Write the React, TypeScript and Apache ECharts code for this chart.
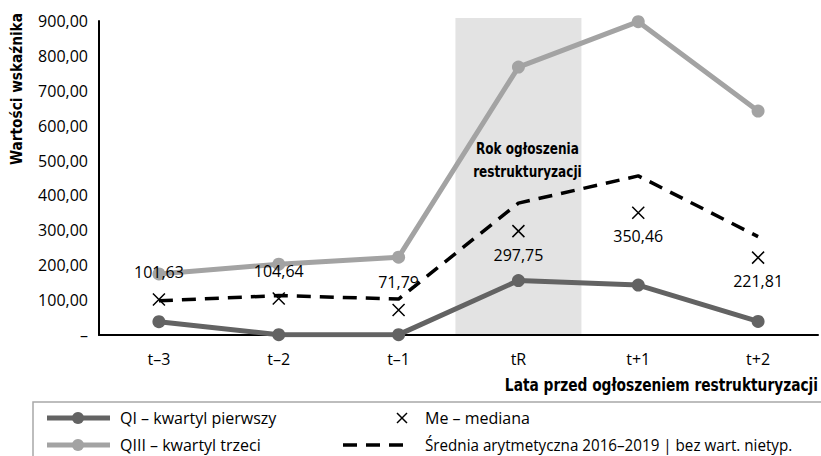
import React, { useEffect, useRef } from "react";
import * as echarts from "echarts";

// Okresy względem roku ogłoszenia restrukturyzacji
const categories = ["t\u20133", "t\u20132", "t\u20131", "tR", "t+1", "t+2"];
// Kwartyl pierwszy (QI)
const q1Values = [38, 1, 1, 156, 143, 39];
// Kwartyl trzeci (QIII)
const q3Values = [175, 203, 223, 768, 898, 642];
// Mediana (Me)
const medianValues = [101.63, 104.64, 71.79, 297.75, 350.46, 221.81];
// Średnia arytmetyczna 2016–2019 bez wartości nietypowych
const meanValues = [98, 113, 103, 378, 456, 282];
// Tylko pierwsze trzy etykiety mediany stoją nad znacznikiem
const medianLabelAbove = [true, true, true, false, false, false];

const BASE_FONT = "'Open Sans', 'Noto Sans', sans-serif";
const NARROW_BOLD = "'Liberation Sans Narrow', 'DejaVu Sans Condensed', sans-serif";
const fmt = (v: number) => v.toFixed(2).replace(".", ",");

const CROSS = "path://M0,0L10,10M10,0L0,10";

export default function App() {
  const ref = useRef<HTMLDivElement>(null);

  useEffect(() => {
    if (!ref.current) return;
    const chart = echarts.init(ref.current, undefined, { renderer: "svg" });

    chart.setOption({
      animation: false,
      backgroundColor: "#ffffff",
      grid: { left: 99, right: 3, top: 21, bottom: 121, containLabel: false },
      xAxis: {
        type: "category",
        data: categories,
        boundaryGap: true,
        axisLine: { lineStyle: { color: "#000", width: 2 } },
        axisTick: { show: false },
        axisLabel: {
          color: "#000",
          fontFamily: BASE_FONT,
          fontSize: 16,
          margin: 16,
        },
      },
      yAxis: {
        type: "value",
        min: 0,
        max: 900,
        interval: 100,
        axisLine: { show: true, lineStyle: { color: "#000", width: 2 } },
        axisTick: { show: false },
        splitLine: { show: false },
        axisLabel: {
          color: "#000",
          fontFamily: BASE_FONT,
          fontSize: 16,
          margin: 11,
          formatter: (v: number) => (v === 0 ? "\u2013" : fmt(v)),
        },
      },
      series: [
        {
          name: "QIII \u2013 kwartyl trzeci",
          type: "line",
          data: q3Values,
          z: 3,
          symbol: "circle",
          symbolSize: 13,
          lineStyle: { color: "#a3a3a3", width: 5 },
          itemStyle: { color: "#a3a3a3" },
        },
        {
          name: "Średnia arytmetyczna",
          type: "line",
          data: meanValues,
          z: 4,
          symbol: "none",
          lineStyle: { color: "#000", width: 3.5, type: [14, 9] },
        },
        {
          name: "QI \u2013 kwartyl pierwszy",
          type: "line",
          data: q1Values,
          z: 5,
          symbol: "circle",
          symbolSize: 13,
          lineStyle: { color: "#636363", width: 5 },
          itemStyle: { color: "#636363" },
        },
        {
          name: "Me \u2013 mediana",
          type: "scatter",
          z: 6,
          symbol: CROSS,
          symbolSize: 12,
          itemStyle: { color: "none", borderColor: "#000", borderWidth: 1.5, opacity: 1 },
          data: medianValues.map((v, i) => ({
            value: v,
            label: {
              show: true,
              position: medianLabelAbove[i] ? "top" : "bottom",
              distance: medianLabelAbove[i] ? 11 : 7,
              formatter: () => fmt(v),
              color: "#000",
              opacity: 1,
              fontFamily: BASE_FONT,
              fontSize: 16,
            },
          })),
        },
      ],
    });

    // Pas wyróżniający rok ogłoszenia oraz elementy opisowe
    const cx = chart.convertToPixel({ xAxisIndex: 0 }, "tR") as number;
    const yTop = chart.convertToPixel({ yAxisIndex: 0 }, 900) as number;
    const yZero = chart.convertToPixel({ yAxisIndex: 0 }, 0) as number;
    const bandW = 126;

    const legendRow1 = 418;
    const legendRow2 = 445;
    const textStyle = { fontFamily: BASE_FONT, fontSize: 16, lineHeight: 16, fill: "#000" };
    const boldTitle = (size: number) => `bold ${size}px ${NARROW_BOLD}`;

    chart.setOption({
      graphic: [
        {
          type: "rect",
          z: 0,
          shape: { x: cx - bandW / 2, y: yTop - 3, width: bandW, height: yZero - yTop + 2 },
          style: { fill: "#e3e3e3" },
        },
        {
          type: "text",
          z: 1,
          x: cx + 9,
          y: 148,
          scaleX: 0.84,
          style: {
            text: "Rok ogłoszenia",
            font: boldTitle(16),
            fill: "#000",
            textAlign: "center",
            textVerticalAlign: "middle",
          },
        },
        {
          type: "text",
          z: 1,
          x: cx + 9,
          y: 171,
          scaleX: 0.84,
          style: {
            text: "restrukturyzacji",
            font: boldTitle(16),
            fill: "#000",
            textAlign: "center",
            textVerticalAlign: "middle",
          },
        },
        // tytuł osi Y
        {
          type: "text",
          x: 17,
          y: 89,
          rotation: Math.PI / 2,
          scaleX: 0.95,
          style: {
            text: "Wartości wskaźnika",
            font: boldTitle(16),
            fill: "#000",
            textAlign: "center",
            textVerticalAlign: "middle",
          },
        },
        // tytuł osi X
        {
          type: "text",
          x: 818,
          y: 385,
          scaleX: 0.9,
          style: {
            text: "Lata przed ogłoszeniem restrukturyzacji",
            font: boldTitle(17),
            fill: "#000",
            textAlign: "right",
            textVerticalAlign: "middle",
          },
        },
        // ramka legendy
        {
          type: "rect",
          shape: { x: 33, y: 402, width: 800, height: 80 },
          style: { fill: "none", stroke: "#a8a8a8", lineWidth: 1.5 },
        },
        // QI
        { type: "line", shape: { x1: 47, y1: legendRow1, x2: 110, y2: legendRow1 }, style: { stroke: "#636363", lineWidth: 5 } },
        { type: "circle", shape: { cx: 78, cy: legendRow1, r: 6 }, style: { fill: "#636363" } },
        {
          type: "text", x: 120, y: legendRow1,
          style: { ...textStyle, text: "QI \u2013 kwartyl pierwszy", textVerticalAlign: "middle" },
        },
        // QIII
        { type: "line", shape: { x1: 47, y1: legendRow2, x2: 110, y2: legendRow2 }, style: { stroke: "#a3a3a3", lineWidth: 5 } },
        { type: "circle", shape: { cx: 78, cy: legendRow2, r: 6 }, style: { fill: "#a3a3a3" } },
        {
          type: "text", x: 120, y: legendRow2,
          style: { ...textStyle, text: "QIII \u2013 kwartyl trzeci", textVerticalAlign: "middle" },
        },
        // Me
        { type: "line", shape: { x1: 397, y1: legendRow1 - 5, x2: 407, y2: legendRow1 + 5 }, style: { stroke: "#000", lineWidth: 1.5 } },
        { type: "line", shape: { x1: 407, y1: legendRow1 - 5, x2: 397, y2: legendRow1 + 5 }, style: { stroke: "#000", lineWidth: 1.5 } },
        {
          type: "text", x: 425, y: legendRow1,
          style: { ...textStyle, text: "Me \u2013 mediana", textVerticalAlign: "middle" },
        },
        // średnia
        {
          type: "line",
          shape: { x1: 343, y1: legendRow2, x2: 403, y2: legendRow2 },
          style: { stroke: "#000", lineWidth: 3.5, lineDash: [14, 9] },
        },
        {
          type: "text", x: 425, y: legendRow2,
          scaleX: 0.95,
          style: {
            ...textStyle,
            text: "Średnia arytmetyczna 2016\u20132019 | bez wart. nietyp.",
            textVerticalAlign: "middle",
          },
        },
      ],
    });

    return () => chart.dispose();
  }, []);

  return <div ref={ref} style={{ width: 821, height: 456, position: "absolute", left: 0, top: 0 }} />;
}
